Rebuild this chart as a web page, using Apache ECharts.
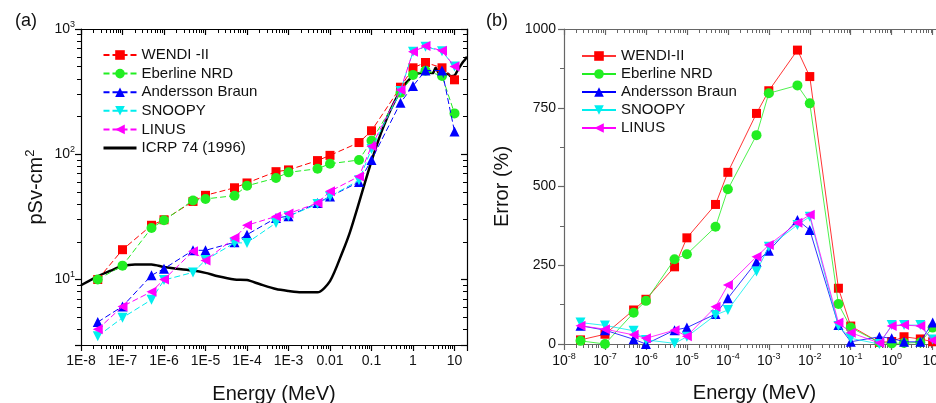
<!DOCTYPE html>
<html>
<head>
<meta charset="utf-8">
<script src="https://cdn.jsdelivr.net/npm/echarts@6/dist/echarts.min.js"></script>
<style>
html,body{margin:0;padding:0;background:#fff;}
#c{width:936px;height:403px;}
</style>
</head>
<body>
<div id="c"></div>
<script>
// Energies (MeV) of measured points
var energies = [2.53e-8, 1e-7, 5e-7, 1e-6, 5e-6, 1e-5, 5e-5, 1e-4, 5e-4, 1e-3, 5e-3, 1e-2, 5e-2, 0.1, 0.5, 1, 2, 5, 10];

// Panel (a): response, pSv-cm2
var wendiA = [10, 17.3, 27.1, 30, 42, 47, 54, 59, 72.6, 75, 89, 98, 124, 154, 343, 490, 540, 490, 393];
var eberA  = [10, 12.9, 25.8, 29.7, 42.8, 44, 46.7, 56, 64.6, 71.7, 76.6, 84, 90, 128, 310, 430, 465, 422, 212];
var andA   = [4.57, 6.1, 10.8, 12.2, 17.1, 17.1, 19.8, 22.8, 31, 32, 40.8, 46, 60, 90, 258, 351, 466, 466, 152];
var snoA   = [3.53, 4.95, 6.9, 9.9, 11.4, 14.3, 19.6, 19.6, 28.3, 32, 40, 46, 62, 110, 320, 659, 723, 665, 501];
var linA   = [4.0, 6.1, 8.0, 10, 16.8, 14.2, 21.5, 27.1, 31.9, 33.6, 40.8, 50.6, 66.5, 116, 326, 659, 730, 670, 501];

// ICRP 74 (1996) curve
var icrpE = [1e-8, 2.53e-8, 5e-8, 1e-7, 2e-7, 5e-7, 1e-6, 2e-6, 5e-6, 1e-5, 2e-5, 5e-5, 1e-4, 2e-4, 5e-4, 1e-3, 2e-3, 5e-3, 1e-2, 2e-2, 3e-2, 5e-2, 7e-2, 0.1, 0.15, 0.2, 0.3, 0.5, 0.7, 0.9, 1, 1.2, 2, 3, 3.5, 4, 5, 6, 7, 8, 10, 12, 14, 16, 18, 20];
var icrpV = [9.0, 10.6, 11.7, 12.8, 13.2, 13.2, 12.6, 12.2, 11.8, 11.3, 10.6, 10.0, 9.9, 9.2, 8.4, 8.1, 7.9, 7.9, 9.7, 16.6, 23.7, 41.1, 60, 88, 132, 170, 233, 322, 375, 410, 430, 440, 450, 445, 490, 455, 405, 430, 440, 420, 425, 470, 510, 545, 570, 600];

// Panel (b): error, %
var wendiB = [13, 31, 108, 142, 245, 337, 443, 545, 732, 804, 933, 849, 177, 57, 5, 8, 23, 16, 7];
var eberB  = [10, 0, 99, 137, 269, 285, 372, 491, 663, 796, 821, 764, 127, 52, 5, 2, 3, 5, 52];
var andB   = [58, 44, 15, 0, 44, 52, 95, 145, 261, 296, 394, 362, 60, 7, 23, 18, 7, 7, 68];
var snoB   = [68, 59, 42, 13, 2, 23, 92, 108, 230, 309, 378, 404, 57, 18, 0, 60, 60, 60, 14];
var linB   = [58, 47, 29, 18, 44, 25, 118, 187, 277, 314, 385, 410, 68, 36, 3, 57, 60, 57, 12];

// Tick labels
var xTickLabelsA = ['1E-8', '1E-7', '1E-6', '1E-5', '1E-4', '1E-3', '0.01', '0.1', '1', '10'];
var xTickExpB = ['-8', '-7', '-6', '-5', '-4', '-3', '-2', '-1', '0', '1'];
var yTickExpA = ['1', '2', '3'];
var yMinorB = [125, 375, 625, 875];

var namesA = ['WENDI -II', 'Eberline NRD', 'Andersson Braun', 'SNOOPY', 'LINUS', 'ICRP 74 (1996)'];
var namesB = ['WENDI-II', 'Eberline NRD', 'Andersson Braun', 'SNOOPY', 'LINUS'];

var colors = ['#ff0000', '#22ee22', '#0000ff', '#00eeee', '#ff00ff'];
var symbols = ['rect', 'circle', 'triangle', 'triangle', 'triangle'];
var rots = [0, 0, 0, 180, 90];
var sizes = [9, 10, 10, 10, 10];

function pairs(xs, ys) { return xs.map(function (x, i) { return [x, ys[i]]; }); }
function expOf(v) { var l = Math.log10(v); var r = Math.round(l); return Math.abs(l - r) < 1e-6 ? r : null; }
// minor tick positions of a log axis: 2..9 times each decade
function logMinor(e0, e1, lo, hi) {
  var out = [];
  for (var e = e0; e <= e1; e++) {
    for (var k = 2; k <= 9; k++) {
      var v = parseFloat((k * Math.pow(10, e)).toPrecision(6));
      if (v >= lo && v <= hi) out.push(v);
    }
  }
  return out;
}
var xMinor = logMinor(-8, 1, 1e-8, 20);
var yMinorA = logMinor(0, 2, 3, 1000);

var FONT = 'Liberation Sans, Arial, sans-serif';
var supRich = {
  b: { fontSize: 14, fontFamily: FONT, color: '#111' },
  s: { fontSize: 9, fontFamily: FONT, color: '#111', padding: [0, 0, 9, 0] }
};

var gridA = { left: 81, top: 29, width: 386, height: 316, outerBoundsMode: 'none', containLabel: false };
var gridB = { left: 564, top: 29, width: 381, height: 315, outerBoundsMode: 'none', containLabel: false };

function logX(grid, pos, mirror, color, labelFn, name) {
  return {
    type: 'log', gridIndex: grid, position: pos, min: 1e-8, max: 20, logBase: 10,
    name: name || '', nameLocation: 'middle', nameGap: 39,
    nameTextStyle: { fontSize: 20, fontFamily: FONT, color: '#111' },
    axisLine: { show: true, onZero: false, lineStyle: { color: color, width: 1.2 } },
    axisTick: { show: true, inside: mirror, length: 6, lineStyle: { color: color, width: 1.2 } },
    splitLine: { show: false },
    axisLabel: mirror ? { show: false } : labelFn
  };
}
// an axis that only draws minor ticks at given values
function minorAxis(base, values, inside, color) {
  var a = {
    type: base.type, gridIndex: base.gridIndex, position: base.position,
    min: base.min, max: base.max,
    axisLine: { show: false, onZero: false },
    axisTick: { show: true, inside: inside, length: 4, customValues: values, lineStyle: { color: color, width: 1 } },
    axisLabel: { show: false },
    splitLine: { show: false }
  };
  if (base.logBase) a.logBase = base.logBase;
  return a;
}

var labelA = {
  show: true, margin: 9, fontSize: 14, fontFamily: FONT, color: '#111',
  formatter: function (v) { var e = expOf(v); return e === null ? '' : xTickLabelsA[e + 8]; }
};
var labelB = {
  show: true, margin: 8, color: '#111', rich: supRich,
  formatter: function (v) { var e = expOf(v); return e === null ? '' : '{b|10}{s|' + xTickExpB[e + 8] + '}'; }
};

var series = [];
var dataA = [wendiA, eberA, andA, snoA, linA];
var dataB = [wendiB, eberB, andB, snoB, linB];
for (var i = 0; i < 5; i++) {
  series.push({
    name: namesA[i], type: 'line', xAxisIndex: 0, yAxisIndex: 0,
    data: pairs(energies, dataA[i]), symbol: symbols[i], symbolRotate: rots[i], symbolSize: sizes[i],
    lineStyle: { color: colors[i], width: 1, type: [6, 3] }, itemStyle: { color: colors[i] },
    z: 3 + i
  });
}
series.push({
  name: namesA[5], type: 'line', xAxisIndex: 0, yAxisIndex: 0,
  data: pairs(icrpE, icrpV), symbol: 'none', smooth: 0.25,
  lineStyle: { color: '#000', width: 2.5 }, itemStyle: { color: '#000' }, z: 2
});
for (var j = 0; j < 5; j++) {
  series.push({
    name: namesB[j], type: 'line', xAxisIndex: 2, yAxisIndex: 2,
    data: pairs(energies, dataB[j]), symbol: symbols[j], symbolRotate: rots[j], symbolSize: sizes[j],
    lineStyle: { color: colors[j], width: 1, type: 'solid', opacity: 0.8 }, itemStyle: { color: colors[j] },
    z: 3 + j
  });
}

var legendText = { fontSize: 15, fontFamily: FONT, color: '#111', lineHeight: 16 };

var legendDataA = namesA.map(function (n, k) {
  return k === 5 ? { name: n, itemStyle: { opacity: 0 }, lineStyle: { width: 3 } } : { name: n };
});

var xA0 = logX(0, 'bottom', false, '#000', labelA, 'Energy (MeV)');
var xA1 = logX(0, 'top', true, '#000', null);
var xB0 = logX(1, 'bottom', false, '#666', labelB, 'Energy (MeV)');
var xB1 = logX(1, 'top', true, '#666', null);

var yA0 = {
  type: 'log', gridIndex: 0, position: 'left', min: 3, max: 1000, logBase: 10,
  name: 'pSv-cm{s2|2}', nameLocation: 'middle', nameGap: 33,
  nameTextStyle: { fontSize: 20, fontFamily: FONT, color: '#111',
    rich: { s2: { fontSize: 13, fontFamily: FONT, color: '#111', padding: [0, 0, 11, 0] } } },
  axisLine: { show: true, lineStyle: { color: '#000', width: 1.2 } },
  axisTick: { show: true, inside: false, length: 6, lineStyle: { color: '#000', width: 1.2 } },
  splitLine: { show: false },
  axisLabel: { show: true, margin: 6, rich: supRich,
    formatter: function (v) { var e = expOf(v); return e === null ? '' : '{b|10}{s|' + yTickExpA[e - 1] + '}'; } }
};
var yA1 = {
  type: 'log', gridIndex: 0, position: 'right', min: 3, max: 1000, logBase: 10,
  axisLine: { show: true, lineStyle: { color: '#000', width: 1.2 } },
  axisTick: { show: true, inside: true, length: 6, lineStyle: { color: '#000', width: 1.2 } },
  splitLine: { show: false }, axisLabel: { show: false }
};
var yB0 = {
  type: 'value', gridIndex: 1, position: 'left', min: 0, max: 1000, interval: 250,
  name: 'Error (%)', nameLocation: 'middle', nameGap: 52,
  nameTextStyle: { fontSize: 20, fontFamily: FONT, color: '#111' },
  axisLine: { show: true, lineStyle: { color: '#666', width: 1.2 } },
  axisTick: { show: true, inside: false, length: 6, lineStyle: { color: '#666', width: 1.2 } },
  splitLine: { show: false },
  axisLabel: { show: true, margin: 8, fontSize: 14, fontFamily: FONT, color: '#111',
    formatter: function (v) { return String(v); } }
};

var option = {
  animation: false,
  backgroundColor: '#fff',
  title: [
    { text: '(a)', left: 10, top: 7, textStyle: { fontSize: 18, fontWeight: 'normal', fontFamily: FONT, color: '#111' } },
    { text: '(b)', left: 481, top: 7, textStyle: { fontSize: 18, fontWeight: 'normal', fontFamily: FONT, color: '#111' } }
  ],
  grid: [gridA, gridB],
  legend: [
    {
      orient: 'vertical', left: 102, top: 47, padding: 0, itemWidth: 33, itemHeight: 12, itemGap: 2.6,
      textStyle: legendText, data: legendDataA, selectedMode: false
    },
    {
      orient: 'vertical', left: 581, top: 48, padding: 0, itemWidth: 34, itemHeight: 12, itemGap: 2,
      textStyle: legendText, selectedMode: false,
      data: namesB.map(function (n) { return { name: n, lineStyle: { type: 'solid' } }; })
    }
  ],
  xAxis: [
    xA0, xA1, xB0, xB1,
    minorAxis(xA0, xMinor, false, '#000'),
    minorAxis(xA1, xMinor, true, '#000'),
    minorAxis(xB0, xMinor, false, '#666'),
    minorAxis(xB1, xMinor, true, '#666')
  ],
  yAxis: [
    yA0, yA1, yB0,
    minorAxis(yA0, yMinorA, false, '#000'),
    minorAxis(yA1, yMinorA, true, '#000'),
    minorAxis(yB0, yMinorB, false, '#666')
  ],
  series: series
};

var chart = echarts.init(document.getElementById('c'), null, { renderer: 'canvas' });
chart.setOption(option);
</script>
</body>
</html>
